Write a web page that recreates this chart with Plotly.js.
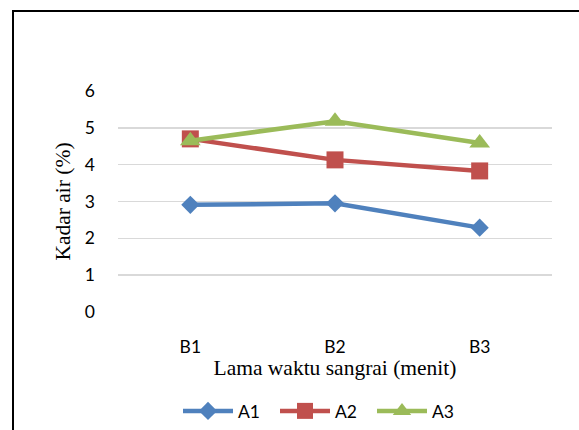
<!DOCTYPE html>
<html>
<head>
<meta charset="utf-8">
<script src="https://cdn.plot.ly/plotly-3.0.1.min.js"></script>
<style>html,body{margin:0;padding:0;background:#fff;}#chart{width:579px;height:430px;}</style>
</head>
<body>
<div id="chart"></div>
<script>
const categories = ['B1', 'B2', 'B3'];
const seriesNames = ['A1', 'A2', 'A3'];
const A1 = [2.91, 2.95, 2.29];
const A2 = [4.70, 4.13, 3.83];
const A3 = [4.65, 5.18, 4.59];
const yTicks = [0, 1, 2, 3, 4, 5, 6];

const colors = ['#4F81BD', '#C0504D', '#9BBB59'];
const symbols = ['diamond', 'square', 'triangle-up'];
const sizes = [14, 17, 18];
const values = [A1, A2, A3];

const traces = values.map((v, i) => ({
  type: 'scatter',
  mode: 'lines+markers',
  name: seriesNames[i],
  x: categories,
  y: v,
  line: {color: colors[i], width: 4.5},
  marker: {color: colors[i], symbol: symbols[i], size: sizes[i]}
}));

const L = 118, R = 552, T = 91, B = 312;
const px = x => (x - L) / (R - L);
const py = y => (B - y) / (B - T);
const tickFont = {family: 'Lato, "Open Sans", sans-serif', size: 17.5, color: '#000'};
const titleFont = {family: '"Liberation Serif", "Times New Roman", serif', size: 21.5, color: '#000'};

const layout = {
  width: 579, height: 430,
  margin: {l: L, r: 579 - R, t: T, b: 430 - B, autoexpand: false},
  paper_bgcolor: '#fff', plot_bgcolor: '#fff',
  showlegend: true,
  legend: {
    orientation: 'h', x: px(178), y: py(411), xanchor: 'left', yanchor: 'middle',
    font: tickFont,
    itemwidth: 50, entrywidth: 32, entrywidthmode: 'pixels', tracegroupgap: 0
  },
  xaxis: {
    type: 'category', range: [-0.5, 2.5],
    showgrid: false, zeroline: false, showline: false,
    ticks: '', ticklabelstandoff: 22,
    tickfont: tickFont,
    title: {text: 'Lama waktu sangrai (menit)', standoff: 0, font: titleFont},
    automargin: false
  },
  yaxis: {
    range: [0, 6], tickvals: yTicks,
    showgrid: true, gridcolor: '#D9D9D9', gridwidth: 1.5,
    zeroline: false, showline: false, ticks: '', ticklabelstandoff: 22,
    tickfont: tickFont,
    title: {text: 'Kadar air (%)', standoff: 8, font: titleFont},
    automargin: false
  },
  shapes: [{
    type: 'rect', xref: 'paper', yref: 'paper',
    x0: px(13), x1: px(600), y0: py(450), y1: py(11),
    line: {color: '#000', width: 2}, fillcolor: 'rgba(0,0,0,0)', layer: 'below'
  }]
};

Plotly.newPlot('chart', traces, layout, {displayModeBar: false, staticPlot: true});
</script>
</body>
</html>
